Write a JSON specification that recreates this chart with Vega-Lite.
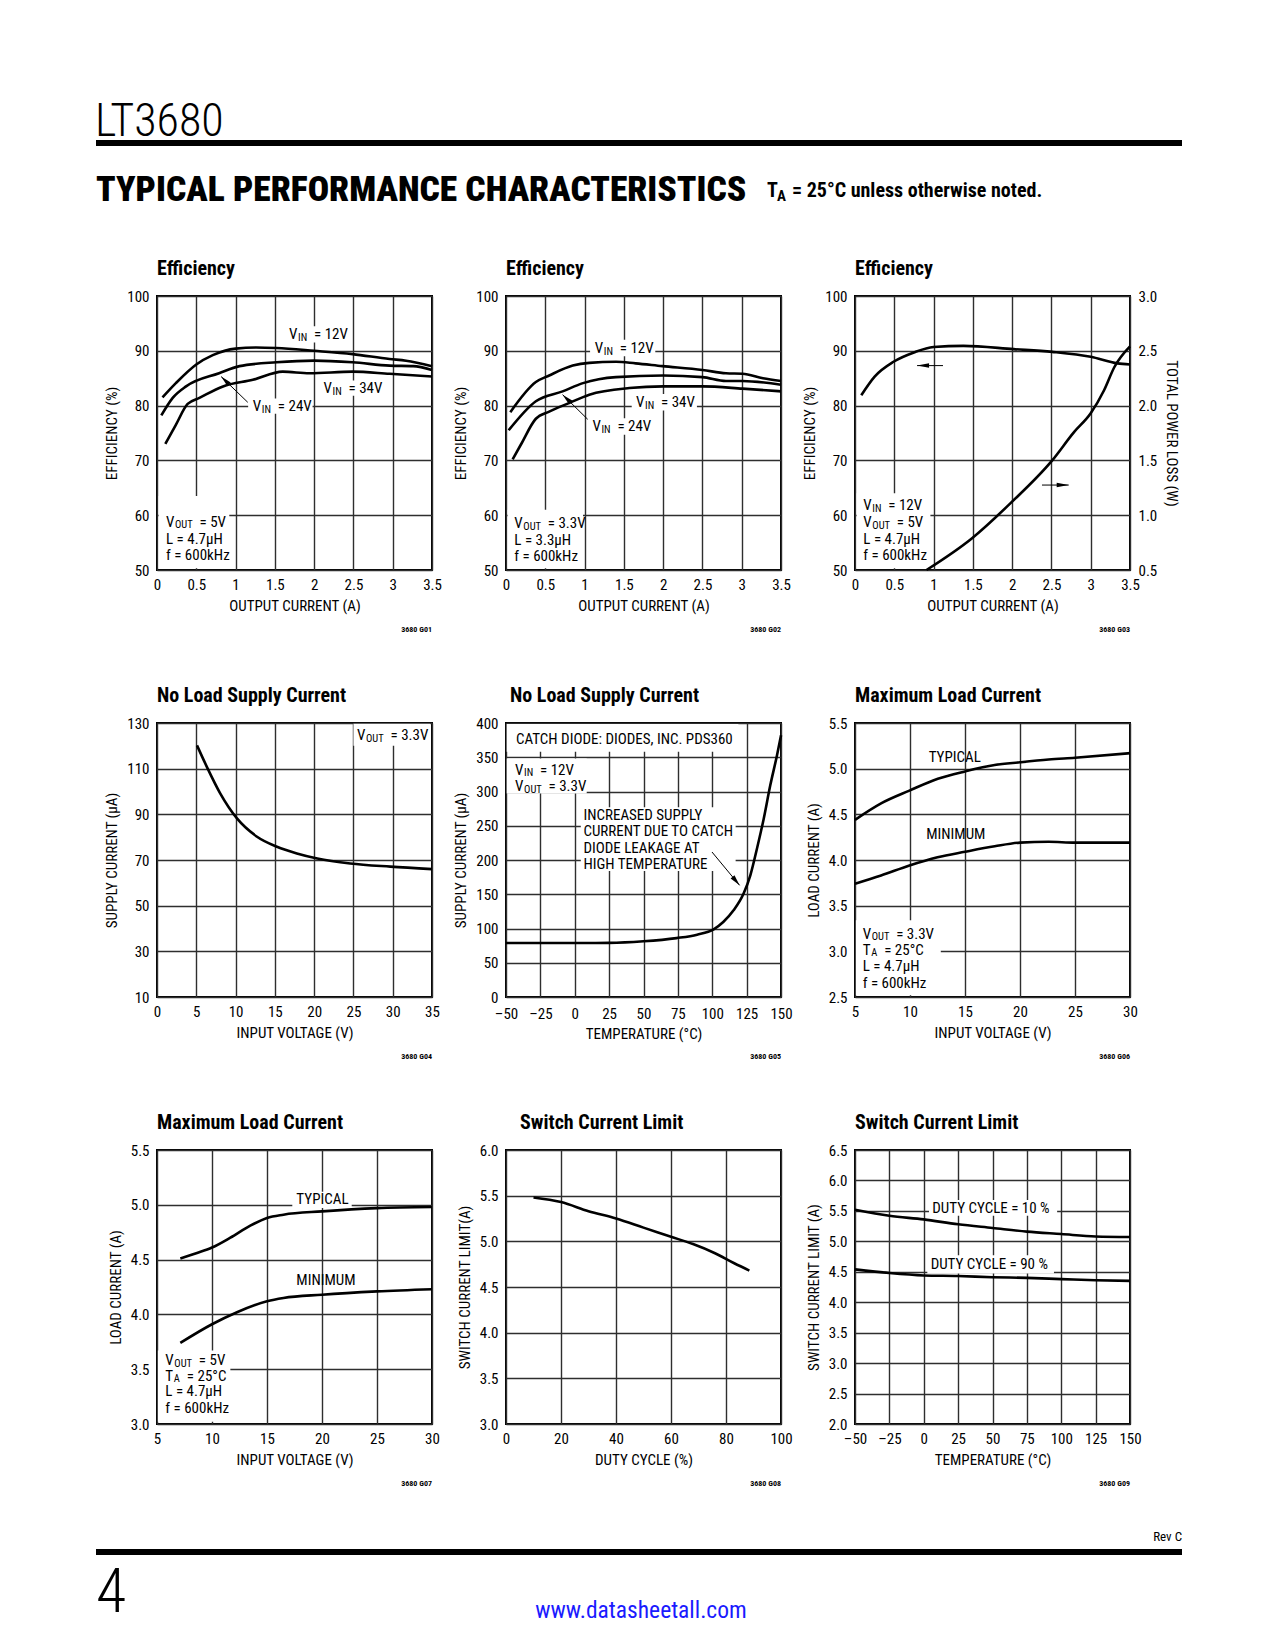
{
"$schema": "https://vega.github.io/schema/vega-lite/v6.json",
"background": "white",
"padding": {"left": 95, "top": 95, "right": 10, "bottom": 10},
"config": {
  "font": "Roboto Condensed, Roboto, sans-serif",
  "view": {"stroke": "black", "strokeWidth": 2},
  "axis": {"domain": false, "ticks": false, "grid": true, "gridColor": "#2e2e2e", "gridWidth": 1.4, "gridOpacity": 1, "labelFontSize": 15, "labelColor": "black", "labelFlush": false, "labelOverlap": false, "titleFontSize": 15, "titleFontWeight": "normal", "titleColor": "black", "titlePadding": 7},
  "axisX": {"labelPadding": 7, "titlePadding": 6.5},
  "axisY": {"labelPadding": 8},
  "title": {"fontSize": 20, "fontWeight": "bold", "anchor": "start", "frame": "group", "offset": 10, "baseline": "alphabetic", "color": "black"},
  "text": {"fontSize": 15, "color": "black", "align": "left", "baseline": "middle"},
  "line": {"color": "black", "strokeWidth": 2.6, "interpolate": "monotone"},
  "rule": {"color": "black"},
  "rect": {"color": "white"}
},
"datasets": {
  "curves": [
    {"c":1,"s":"a","x":0.07,"y":81.5},{"c":1,"s":"a","x":0.24,"y":84.1},{"c":1,"s":"a","x":0.5,"y":87.5},{"c":1,"s":"a","x":0.71,"y":89.2},{"c":1,"s":"a","x":1.0,"y":90.4},{"c":1,"s":"a","x":1.26,"y":90.6},{"c":1,"s":"a","x":1.52,"y":90.5},{"c":1,"s":"a","x":2.0,"y":90.0},{"c":1,"s":"a","x":2.49,"y":89.4},{"c":1,"s":"a","x":2.96,"y":88.5},{"c":1,"s":"a","x":3.17,"y":88.2},{"c":1,"s":"a","x":3.5,"y":87.2},
    {"c":1,"s":"b","x":0.055,"y":78.2},{"c":1,"s":"b","x":0.2,"y":81.4},{"c":1,"s":"b","x":0.37,"y":83.5},{"c":1,"s":"b","x":0.79,"y":85.9},{"c":1,"s":"b","x":1.05,"y":87.2},{"c":1,"s":"b","x":1.52,"y":87.9},{"c":1,"s":"b","x":2.0,"y":88.2},{"c":1,"s":"b","x":2.49,"y":87.9},{"c":1,"s":"b","x":2.96,"y":87.3},{"c":1,"s":"b","x":3.26,"y":87.2},{"c":1,"s":"b","x":3.5,"y":86.5},
    {"c":1,"s":"c","x":0.106,"y":73.0},{"c":1,"s":"c","x":0.24,"y":76.5},{"c":1,"s":"c","x":0.39,"y":80.3},{"c":1,"s":"c","x":0.54,"y":81.4},{"c":1,"s":"c","x":0.84,"y":83.5},{"c":1,"s":"c","x":1.22,"y":84.7},{"c":1,"s":"c","x":1.6,"y":86.2},{"c":1,"s":"c","x":1.94,"y":85.9},{"c":1,"s":"c","x":2.49,"y":86.2},{"c":1,"s":"c","x":2.96,"y":85.8},{"c":1,"s":"c","x":3.5,"y":85.3},
    {"c":2,"s":"a","x":0.055,"y":78.8},{"c":2,"s":"a","x":0.38,"y":84.3},{"c":2,"s":"a","x":0.55,"y":85.5},{"c":2,"s":"a","x":0.85,"y":87.3},{"c":2,"s":"a","x":1.06,"y":87.8},{"c":2,"s":"a","x":1.4,"y":88.0},{"c":2,"s":"a","x":1.65,"y":87.7},{"c":2,"s":"a","x":1.99,"y":87.2},{"c":2,"s":"a","x":2.5,"y":86.5},{"c":2,"s":"a","x":2.8,"y":85.9},{"c":2,"s":"a","x":3.01,"y":85.8},{"c":2,"s":"a","x":3.27,"y":85.0},{"c":2,"s":"a","x":3.5,"y":84.5},
    {"c":2,"s":"b","x":0.034,"y":75.5},{"c":2,"s":"b","x":0.38,"y":80.8},{"c":2,"s":"b","x":0.72,"y":82.6},{"c":2,"s":"b","x":0.98,"y":84.1},{"c":2,"s":"b","x":1.4,"y":85.2},{"c":2,"s":"b","x":2.0,"y":85.5},{"c":2,"s":"b","x":2.5,"y":85.2},{"c":2,"s":"b","x":2.8,"y":84.5},{"c":2,"s":"b","x":3.01,"y":84.5},{"c":2,"s":"b","x":3.5,"y":83.8},
    {"c":2,"s":"c","x":0.085,"y":70.2},{"c":2,"s":"c","x":0.19,"y":72.9},{"c":2,"s":"c","x":0.38,"y":77.6},{"c":2,"s":"c","x":0.55,"y":78.9},{"c":2,"s":"c","x":0.81,"y":80.5},{"c":2,"s":"c","x":1.06,"y":82.0},{"c":2,"s":"c","x":1.57,"y":83.2},{"c":2,"s":"c","x":2.0,"y":83.5},{"c":2,"s":"c","x":2.5,"y":83.5},{"c":2,"s":"c","x":3.01,"y":83.1},{"c":2,"s":"c","x":3.5,"y":82.6},
    {"c":3,"s":"eff","x":0.08,"y":81.9},{"c":3,"s":"eff","x":0.25,"y":85.3},{"c":3,"s":"eff","x":0.49,"y":88.0},{"c":3,"s":"eff","x":0.75,"y":89.7},{"c":3,"s":"eff","x":1.0,"y":90.7},{"c":3,"s":"eff","x":1.38,"y":90.9},{"c":3,"s":"eff","x":2.02,"y":90.3},{"c":3,"s":"eff","x":2.51,"y":89.8},{"c":3,"s":"eff","x":3.0,"y":88.9},{"c":3,"s":"eff","x":3.34,"y":87.7},{"c":3,"s":"eff","x":3.5,"y":87.5},
    {"c":3,"s":"loss","x":0.91,"y":0.5},{"c":3,"s":"loss","x":1.49,"y":0.79},{"c":3,"s":"loss","x":1.98,"y":1.11},{"c":3,"s":"loss","x":2.51,"y":1.5},{"c":3,"s":"loss","x":2.79,"y":1.76},{"c":3,"s":"loss","x":3.0,"y":1.93},{"c":3,"s":"loss","x":3.17,"y":2.14},{"c":3,"s":"loss","x":3.3,"y":2.35},{"c":3,"s":"loss","x":3.5,"y":2.54},
    {"c":4,"s":"a","x":5.09,"y":120.2},{"c":4,"s":"a","x":6.36,"y":110.7},{"c":4,"s":"a","x":8.06,"y":99.1},{"c":4,"s":"a","x":10.18,"y":88.2},{"c":4,"s":"a","x":12.73,"y":80.2},{"c":4,"s":"a","x":15.27,"y":75.8},{"c":4,"s":"a","x":17.8,"y":72.9},{"c":4,"s":"a","x":20.4,"y":70.7},{"c":4,"s":"a","x":24.6,"y":68.5},{"c":4,"s":"a","x":29.7,"y":67.1},{"c":4,"s":"a","x":35,"y":66.0},
    {"c":5,"s":"a","x":-50,"y":78.8},{"c":5,"s":"a","x":0,"y":78.8},{"c":5,"s":"a","x":25,"y":79.0},{"c":5,"s":"a","x":50,"y":81.3},{"c":5,"s":"a","x":74,"y":86},{"c":5,"s":"a","x":89,"y":91},{"c":5,"s":"a","x":101,"y":98.8},{"c":5,"s":"a","x":108,"y":109.5},{"c":5,"s":"a","x":115.5,"y":126.5},{"c":5,"s":"a","x":122.8,"y":151},{"c":5,"s":"a","x":127.7,"y":177.6},{"c":5,"s":"a","x":132.5,"y":216.5},{"c":5,"s":"a","x":137.4,"y":260},{"c":5,"s":"a","x":142.2,"y":309},{"c":5,"s":"a","x":147.1,"y":353},{"c":5,"s":"a","x":150,"y":382},
    {"c":6,"s":"typ","x":5,"y":4.44},{"c":6,"s":"typ","x":7.37,"y":4.62},{"c":6,"s":"typ","x":9.95,"y":4.76},{"c":6,"s":"typ","x":12.53,"y":4.89},{"c":6,"s":"typ","x":15,"y":4.97},{"c":6,"s":"typ","x":17.7,"y":5.04},{"c":6,"s":"typ","x":20,"y":5.07},{"c":6,"s":"typ","x":22.6,"y":5.10},{"c":6,"s":"typ","x":25,"y":5.12},{"c":6,"s":"typ","x":30,"y":5.17},
    {"c":6,"s":"min","x":5,"y":3.74},{"c":6,"s":"min","x":7.37,"y":3.83},{"c":6,"s":"min","x":9.95,"y":3.94},{"c":6,"s":"min","x":12.5,"y":4.03},{"c":6,"s":"min","x":15,"y":4.09},{"c":6,"s":"min","x":17.7,"y":4.15},{"c":6,"s":"min","x":20,"y":4.19},{"c":6,"s":"min","x":22.6,"y":4.2},{"c":6,"s":"min","x":25,"y":4.19},{"c":6,"s":"min","x":30,"y":4.19},
    {"c":7,"s":"typ","x":7.12,"y":4.51},{"c":7,"s":"typ","x":8.64,"y":4.56},{"c":7,"s":"typ","x":10,"y":4.61},{"c":7,"s":"typ","x":11.67,"y":4.70},{"c":7,"s":"typ","x":13.48,"y":4.81},{"c":7,"s":"typ","x":15,"y":4.88},{"c":7,"s":"typ","x":16.5,"y":4.91},{"c":7,"s":"typ","x":20,"y":4.94},{"c":7,"s":"typ","x":25,"y":4.97},{"c":7,"s":"typ","x":30,"y":4.98},
    {"c":7,"s":"min","x":7.12,"y":3.74},{"c":7,"s":"min","x":10,"y":3.91},{"c":7,"s":"min","x":12.27,"y":4.02},{"c":7,"s":"min","x":15,"y":4.12},{"c":7,"s":"min","x":16.5,"y":4.15},{"c":7,"s":"min","x":20,"y":4.18},{"c":7,"s":"min","x":25,"y":4.21},{"c":7,"s":"min","x":30,"y":4.23},
    {"c":8,"s":"a","x":10,"y":5.48},{"c":8,"s":"a","x":20,"y":5.43},{"c":8,"s":"a","x":30,"y":5.33},{"c":8,"s":"a","x":40,"y":5.25},{"c":8,"s":"a","x":50,"y":5.15},{"c":8,"s":"a","x":60,"y":5.05},{"c":8,"s":"a","x":68,"y":4.97},{"c":8,"s":"a","x":76,"y":4.87},{"c":8,"s":"a","x":83,"y":4.76},{"c":8,"s":"a","x":88.5,"y":4.68},
    {"c":9,"s":"d10","x":-50,"y":5.52},{"c":9,"s":"d10","x":-25,"y":5.42},{"c":9,"s":"d10","x":0,"y":5.36},{"c":9,"s":"d10","x":25,"y":5.28},{"c":9,"s":"d10","x":50,"y":5.22},{"c":9,"s":"d10","x":75,"y":5.16},{"c":9,"s":"d10","x":100,"y":5.12},{"c":9,"s":"d10","x":125,"y":5.08},{"c":9,"s":"d10","x":150,"y":5.07},
    {"c":9,"s":"d90","x":-50,"y":4.54},{"c":9,"s":"d90","x":-25,"y":4.48},{"c":9,"s":"d90","x":0,"y":4.44},{"c":9,"s":"d90","x":25,"y":4.43},{"c":9,"s":"d90","x":50,"y":4.41},{"c":9,"s":"d90","x":75,"y":4.40},{"c":9,"s":"d90","x":100,"y":4.38},{"c":9,"s":"d90","x":125,"y":4.36},{"c":9,"s":"d90","x":150,"y":4.35}
  ],
  "boxes": [
    {"c":1,"x":1.62,"x2":2.44,"y":91.5,"y2":94.5},{"c":1,"x":1.16,"x2":1.98,"y":78.5,"y2":81.3},{"c":1,"x":2.06,"x2":2.88,"y":81.8,"y2":84.6},{"c":1,"x":0.02,"x2":0.92,"y":50.3,"y2":63.5},
    {"c":2,"x":1.07,"x2":1.9,"y":89.0,"y2":92.0},{"c":2,"x":1.6,"x2":2.43,"y":79.1,"y2":82.1},{"c":2,"x":1.04,"x2":1.87,"y":74.7,"y2":77.7},{"c":2,"x":0.02,"x2":0.98,"y":50.3,"y2":61},
    {"c":3,"x":0.02,"x2":0.96,"y":50.3,"y2":64},
    {"c":4,"x":25.0,"x2":34.8,"y":120,"y2":129.7},
    {"c":5,"x":-49.5,"x2":119,"y":358,"y2":398.5},{"c":5,"x":-49.5,"x2":8.7,"y":297,"y2":348},{"c":5,"x":4.4,"x2":117,"y":184,"y2":277},
    {"c":6,"x":5.08,"x2":12.8,"y":2.52,"y2":3.34},
    {"c":7,"x":17.3,"x2":22.7,"y":4.97,"y2":5.12},{"c":7,"x":5.08,"x2":11.67,"y":3.02,"y2":3.67},
    {"c":9,"x":3.8,"x2":97,"y":5.42,"y2":5.68},{"c":9,"x":2.6,"x2":94.7,"y":4.47,"y2":4.77}
  ],
  "plain": [
    {"c":1,"x":0.115,"y":55.6,"t":"L = 4.7µH"},{"c":1,"x":0.115,"y":52.8,"t":"f = 600kHz"},
    {"c":2,"x":0.106,"y":55.5,"t":"L = 3.3µH"},{"c":2,"x":0.106,"y":52.6,"t":"f = 600kHz"},
    {"c":3,"x":0.106,"y":55.7,"t":"L = 4.7µH"},{"c":3,"x":0.106,"y":52.8,"t":"f = 600kHz"},
    {"c":5,"x":-42.7,"y":377,"t":"CATCH DIODE: DIODES, INC. PDS360"},{"c":5,"x":6.3,"y":266,"t":"INCREASED SUPPLY"},{"c":5,"x":6.3,"y":242,"t":"CURRENT DUE TO CATCH"},{"c":5,"x":6.3,"y":217.5,"t":"DIODE LEAKAGE AT"},{"c":5,"x":6.3,"y":194.6,"t":"HIGH TEMPERATURE"},
    {"c":6,"x":5.7,"y":2.84,"t":"L = 4.7µH"},{"c":6,"x":5.7,"y":2.65,"t":"f = 600kHz"},{"c":6,"x":11.7,"y":5.13,"t":"TYPICAL"},{"c":6,"x":11.47,"y":4.29,"t":"MINIMUM"},
    {"c":7,"x":5.76,"y":3.30,"t":"L = 4.7µH"},{"c":7,"x":5.76,"y":3.15,"t":"f = 600kHz"},{"c":7,"x":17.67,"y":5.05,"t":"TYPICAL"},{"c":7,"x":17.67,"y":4.31,"t":"MINIMUM"},
    {"c":9,"x":6.2,"y":5.55,"t":"DUTY CYCLE = 10 %"},{"c":9,"x":5.0,"y":4.63,"t":"DUTY CYCLE = 90 %"}
  ],
  "vin": [
    {"c":1,"x":1.68,"y":93.0,"t":"= 12V"},{"c":1,"x":1.22,"y":79.9,"t":"= 24V"},{"c":1,"x":2.12,"y":83.2,"t":"= 34V"},
    {"c":2,"x":1.13,"y":90.5,"t":"= 12V"},{"c":2,"x":1.655,"y":80.6,"t":"= 34V"},{"c":2,"x":1.10,"y":76.2,"t":"= 24V"},
    {"c":3,"x":0.106,"y":61.8,"t":"= 12V"},
    {"c":5,"x":-43.4,"y":332,"t":"= 12V"}
  ],
  "vout": [
    {"c":1,"x":0.115,"y":58.8,"t":"= 5V"},{"c":2,"x":0.106,"y":58.5,"t":"= 3.3V"},{"c":3,"x":0.106,"y":58.7,"t":"= 5V"},{"c":4,"x":25.46,"y":124.6,"t":"= 3.3V"},{"c":5,"x":-43.4,"y":308,"t":"= 3.3V"},{"c":6,"x":5.7,"y":3.19,"t":"= 3.3V"},{"c":7,"x":5.76,"y":3.58,"t":"= 5V"}
  ],
  "ta": [
    {"c":6,"x":5.7,"y":3.02,"t":"= 25°C"},{"c":7,"x":5.76,"y":3.44,"t":"= 25°C"}
  ],
  "arrows": [
    {"c":1,"x":0.816,"y":85.3,"x2":1.155,"y2":80.6},
    {"c":2,"x":0.72,"y":82.0,"x2":1.04,"y2":77.5},
    {"c":3,"x":0.79,"y":87.3,"x2":1.12,"y2":87.3},{"c":3,"x":2.72,"y":65.5,"x2":2.38,"y2":65.5},
    {"c":5,"x":119.9,"y":163,"x2":99.8,"y2":211.7}
  ],
  "notes": [
    {"c":1,"x":3.5,"y":50,"t":"3680 G01"},{"c":2,"x":3.5,"y":50,"t":"3680 G02"},{"c":3,"x":3.5,"y":50,"t":"3680 G03"},{"c":4,"x":35,"y":10,"t":"3680 G04"},{"c":5,"x":150,"y":0,"t":"3680 G05"},{"c":6,"x":30,"y":2.5,"t":"3680 G06"},{"c":7,"x":30,"y":3,"t":"3680 G07"},{"c":8,"x":100,"y":3,"t":"3680 G08"},{"c":9,"x":150,"y":2,"t":"3680 G09"}
  ]
},
"columns": 3,
"spacing": {"row": 153, "column": 74},
"bounds": "flush",
"concat": [
  {
    "width": 275, "height": 48, "view": {"stroke": null},
    "encoding": {
      "x": {"field": "x", "type": "quantitative", "scale": {"domain": [156, 431], "nice": false, "zero": false}, "axis": null},
      "y": {"field": "y", "type": "quantitative", "scale": {"domain": [95, 143], "nice": false, "zero": false, "reverse": true}, "axis": null}
    },
    "layer": [
      {"data": {"values": [{"x": 95, "x2": 1181, "y": 140, "y2": 146}]}, "mark": {"type": "rect", "color": "black"}, "encoding": {"x2": {"field": "x2"}, "y2": {"field": "y2"}}},
      {"data": {"values": [{"x": 94, "y": 136, "t": "LT3680"}]}, "mark": {"type": "text", "baseline": "alphabetic", "fontSize": 46, "fontWeight": 300}, "encoding": {"text": {"field": "t"}}},
      {"data": {"values": [{"x": 95, "y": 201, "t": "TYPICAL PERFORMANCE CHARACTERISTICS"}]}, "mark": {"type": "text", "baseline": "alphabetic", "fontSize": 35.5, "fontWeight": 900}, "encoding": {"text": {"field": "t"}}},
      {"data": {"values": [{"x": 766, "y": 197, "t": "= 25°C unless otherwise noted."}]}, "layer": [
        {"mark": {"type": "text", "baseline": "alphabetic", "fontSize": 20, "fontWeight": "bold", "text": "T"}},
        {"mark": {"type": "text", "baseline": "alphabetic", "fontSize": 15, "fontWeight": "bold", "text": "A", "dx": 10, "dy": 4}},
        {"mark": {"type": "text", "baseline": "alphabetic", "fontSize": 20, "fontWeight": "bold", "dx": 25}, "encoding": {"text": {"field": "t"}}}
      ]}
    ]
  },
  {"width": 275, "height": 48, "view": {"stroke": null}, "data": {"values": []}, "mark": "point", "encoding": {}},
  {"width": 275, "height": 48, "view": {"stroke": null}, "data": {"values": []}, "mark": "point", "encoding": {}},
  {
    "width": 275, "height": 274, "title": {"text": "Efficiency"},
    "encoding": {
      "x": {"field": "x", "type": "quantitative", "scale": {"domain": [0, 3.5], "nice": false, "zero": false}, "axis": {"title": "OUTPUT CURRENT (A)", "values": [0, 0.5, 1, 1.5, 2, 2.5, 3, 3.5], "format": "~g"}},
      "y": {"field": "y", "type": "quantitative", "scale": {"domain": [50, 100], "nice": false, "zero": false}, "axis": {"title": "EFFICIENCY (%)", "values": [50, 60, 70, 80, 90, 100]}}
    },
    "layer": [
      {"data": {"name": "boxes"}, "transform": [{"filter": "datum.c==1"}], "mark": {"type": "rect"}, "encoding": {"x2": {"field": "x2"}, "y2": {"field": "y2"}}},
      {"data": {"name": "curves"}, "transform": [{"filter": "datum.c==1"}], "mark": {"type": "line"}, "encoding": {"detail": {"field": "s"}}},
      {"data": {"name": "arrows"}, "transform": [{"filter": "datum.c==1"}], "layer": [
        {"mark": {"type": "rule", "strokeWidth": 1}, "encoding": {"x2": {"field": "x2"}, "y2": {"field": "y2"}}},
        {"mark": {"type": "point", "shape": "M0,0L0.5,2.2L-0.5,2.2Z", "filled": true, "size": 100, "angle": 314, "color": "black", "opacity": 1}}
      ]},
      {"data": {"name": "plain"}, "transform": [{"filter": "datum.c==1"}], "mark": {"type": "text"}, "encoding": {"text": {"field": "t"}}},
      {"data": {"name": "vin"}, "transform": [{"filter": "datum.c==1"}], "layer": [
        {"mark": {"type": "text", "text": "V"}},
        {"mark": {"type": "text", "text": "IN", "fontSize": 10.5, "dx": 9, "dy": 3.5}},
        {"mark": {"type": "text", "dx": 25}, "encoding": {"text": {"field": "t"}}}
      ]},
      {"data": {"name": "vout"}, "transform": [{"filter": "datum.c==1"}], "layer": [
        {"mark": {"type": "text", "text": "V"}},
        {"mark": {"type": "text", "text": "OUT", "fontSize": 10.5, "dx": 9, "dy": 3.5}},
        {"mark": {"type": "text", "dx": 33.5}, "encoding": {"text": {"field": "t"}}}
      ]},
      {"data": {"name": "notes"}, "transform": [{"filter": "datum.c==1"}], "mark": {"type": "text", "align": "right", "fontSize": 8, "fontWeight": "bold", "dy": 60}, "encoding": {"text": {"field": "t"}}}
    ]
  },
  {
    "width": 275, "height": 274, "title": {"text": "Efficiency"},
    "encoding": {
      "x": {"field": "x", "type": "quantitative", "scale": {"domain": [0, 3.5], "nice": false, "zero": false}, "axis": {"title": "OUTPUT CURRENT (A)", "values": [0, 0.5, 1, 1.5, 2, 2.5, 3, 3.5], "format": "~g"}},
      "y": {"field": "y", "type": "quantitative", "scale": {"domain": [50, 100], "nice": false, "zero": false}, "axis": {"title": "EFFICIENCY (%)", "values": [50, 60, 70, 80, 90, 100]}}
    },
    "layer": [
      {"data": {"name": "boxes"}, "transform": [{"filter": "datum.c==2"}], "mark": {"type": "rect"}, "encoding": {"x2": {"field": "x2"}, "y2": {"field": "y2"}}},
      {"data": {"name": "curves"}, "transform": [{"filter": "datum.c==2"}], "mark": {"type": "line"}, "encoding": {"detail": {"field": "s"}}},
      {"data": {"name": "arrows"}, "transform": [{"filter": "datum.c==2"}], "layer": [
        {"mark": {"type": "rule", "strokeWidth": 1}, "encoding": {"x2": {"field": "x2"}, "y2": {"field": "y2"}}},
        {"mark": {"type": "point", "shape": "M0,0L0.5,2.2L-0.5,2.2Z", "filled": true, "size": 100, "angle": 314, "color": "black", "opacity": 1}}
      ]},
      {"data": {"name": "plain"}, "transform": [{"filter": "datum.c==2"}], "mark": {"type": "text"}, "encoding": {"text": {"field": "t"}}},
      {"data": {"name": "vin"}, "transform": [{"filter": "datum.c==2"}], "layer": [
        {"mark": {"type": "text", "text": "V"}},
        {"mark": {"type": "text", "text": "IN", "fontSize": 10.5, "dx": 9, "dy": 3.5}},
        {"mark": {"type": "text", "dx": 25}, "encoding": {"text": {"field": "t"}}}
      ]},
      {"data": {"name": "vout"}, "transform": [{"filter": "datum.c==2"}], "layer": [
        {"mark": {"type": "text", "text": "V"}},
        {"mark": {"type": "text", "text": "OUT", "fontSize": 10.5, "dx": 9, "dy": 3.5}},
        {"mark": {"type": "text", "dx": 33.5}, "encoding": {"text": {"field": "t"}}}
      ]},
      {"data": {"name": "notes"}, "transform": [{"filter": "datum.c==2"}], "mark": {"type": "text", "align": "right", "fontSize": 8, "fontWeight": "bold", "dy": 60}, "encoding": {"text": {"field": "t"}}}
    ]
  },
  {
    "width": 275, "height": 274, "title": {"text": "Efficiency"},
    "encoding": {
      "x": {"field": "x", "type": "quantitative", "scale": {"domain": [0, 3.5], "nice": false, "zero": false}, "axis": {"title": "OUTPUT CURRENT (A)", "values": [0, 0.5, 1, 1.5, 2, 2.5, 3, 3.5], "format": "~g"}}
    },
    "layer": [
      {
        "encoding": {"y": {"field": "y", "type": "quantitative", "scale": {"domain": [50, 100], "nice": false, "zero": false}, "axis": {"title": "EFFICIENCY (%)", "values": [50, 60, 70, 80, 90, 100]}}},
        "layer": [
          {"data": {"name": "boxes"}, "transform": [{"filter": "datum.c==3"}], "mark": {"type": "rect"}, "encoding": {"x2": {"field": "x2"}, "y2": {"field": "y2"}}},
          {"data": {"name": "curves"}, "transform": [{"filter": "datum.c==3 && datum.s=='eff'"}], "mark": {"type": "line"}, "encoding": {"detail": {"field": "s"}}},
          {"data": {"name": "arrows"}, "transform": [{"filter": "datum.c==3"}], "mark": {"type": "rule", "strokeWidth": 1}, "encoding": {"x2": {"field": "x2"}, "y2": {"field": "y2"}}},
          {"data": {"name": "arrows"}, "transform": [{"filter": "datum.c==3 && datum.x2 > datum.x"}], "mark": {"type": "point", "shape": "M0,0L0.45,2.4L-0.45,2.4Z", "filled": true, "size": 100, "angle": 270, "color": "black", "opacity": 1}},
          {"data": {"name": "arrows"}, "transform": [{"filter": "datum.c==3 && datum.x2 < datum.x"}], "mark": {"type": "point", "shape": "M0,0L0.45,2.4L-0.45,2.4Z", "filled": true, "size": 100, "angle": 90, "color": "black", "opacity": 1}},
          {"data": {"name": "plain"}, "transform": [{"filter": "datum.c==3"}], "mark": {"type": "text"}, "encoding": {"text": {"field": "t"}}},
          {"data": {"name": "vin"}, "transform": [{"filter": "datum.c==3"}], "layer": [
            {"mark": {"type": "text", "text": "V"}},
            {"mark": {"type": "text", "text": "IN", "fontSize": 10.5, "dx": 9, "dy": 3.5}},
            {"mark": {"type": "text", "dx": 25}, "encoding": {"text": {"field": "t"}}}
          ]},
          {"data": {"name": "vout"}, "transform": [{"filter": "datum.c==3"}], "layer": [
            {"mark": {"type": "text", "text": "V"}},
            {"mark": {"type": "text", "text": "OUT", "fontSize": 10.5, "dx": 9, "dy": 3.5}},
            {"mark": {"type": "text", "dx": 33.5}, "encoding": {"text": {"field": "t"}}}
          ]},
          {"data": {"name": "notes"}, "transform": [{"filter": "datum.c==3"}], "mark": {"type": "text", "align": "right", "fontSize": 8, "fontWeight": "bold", "dy": 60}, "encoding": {"text": {"field": "t"}}}
        ]
      },
      {
        "data": {"name": "curves"}, "transform": [{"filter": "datum.c==3 && datum.s=='loss'"}],
        "mark": {"type": "line"},
        "encoding": {"y": {"field": "y", "type": "quantitative", "scale": {"domain": [0.5, 3], "nice": false, "zero": false}, "axis": {"orient": "right", "title": "TOTAL POWER LOSS (W)", "values": [0.5, 1, 1.5, 2, 2.5, 3], "format": ".1f", "grid": false}}}
      }
    ],
    "resolve": {"scale": {"y": "independent"}}
  },
  {
    "width": 275, "height": 274, "title": {"text": "No Load Supply Current"},
    "encoding": {
      "x": {"field": "x", "type": "quantitative", "scale": {"domain": [0, 35], "nice": false, "zero": false}, "axis": {"title": "INPUT VOLTAGE (V)", "values": [0, 5, 10, 15, 20, 25, 30, 35]}},
      "y": {"field": "y", "type": "quantitative", "scale": {"domain": [10, 130], "nice": false, "zero": false}, "axis": {"title": "SUPPLY CURRENT (µA)", "values": [10, 30, 50, 70, 90, 110, 130]}}
    },
    "layer": [
      {"data": {"name": "boxes"}, "transform": [{"filter": "datum.c==4"}], "mark": {"type": "rect"}, "encoding": {"x2": {"field": "x2"}, "y2": {"field": "y2"}}},
      {"data": {"name": "curves"}, "transform": [{"filter": "datum.c==4"}], "mark": {"type": "line"}, "encoding": {"detail": {"field": "s"}}},
      {"data": {"name": "vout"}, "transform": [{"filter": "datum.c==4"}], "layer": [
        {"mark": {"type": "text", "text": "V"}},
        {"mark": {"type": "text", "text": "OUT", "fontSize": 10.5, "dx": 9, "dy": 3.5}},
        {"mark": {"type": "text", "dx": 33.5}, "encoding": {"text": {"field": "t"}}}
      ]},
      {"data": {"name": "notes"}, "transform": [{"filter": "datum.c==4"}], "mark": {"type": "text", "align": "right", "fontSize": 8, "fontWeight": "bold", "dy": 60}, "encoding": {"text": {"field": "t"}}}
    ]
  },
  {
    "width": 275, "height": 274, "title": {"text": "No Load Supply Current", "dx": 4},
    "encoding": {
      "x": {"field": "x", "type": "quantitative", "scale": {"domain": [-50, 150], "nice": false, "zero": false}, "axis": {"title": "TEMPERATURE (°C)", "values": [-50, -25, 0, 25, 50, 75, 100, 125, 150], "labelPadding": 9, "titlePadding": 5, "labelExpr": "replace(replace(datum.label, '−', '–'), '-', '–')"}},
      "y": {"field": "y", "type": "quantitative", "scale": {"domain": [0, 400], "nice": false, "zero": false}, "axis": {"title": "SUPPLY CURRENT (µA)", "values": [0, 50, 100, 150, 200, 250, 300, 350, 400]}}
    },
    "layer": [
      {"data": {"name": "boxes"}, "transform": [{"filter": "datum.c==5"}], "mark": {"type": "rect"}, "encoding": {"x2": {"field": "x2"}, "y2": {"field": "y2"}}},
      {"data": {"name": "curves"}, "transform": [{"filter": "datum.c==5"}], "mark": {"type": "line"}, "encoding": {"detail": {"field": "s"}}},
      {"data": {"name": "arrows"}, "transform": [{"filter": "datum.c==5"}], "layer": [
        {"mark": {"type": "rule", "strokeWidth": 1}, "encoding": {"x2": {"field": "x2"}, "y2": {"field": "y2"}}},
        {"mark": {"type": "point", "shape": "M0,0L0.5,2.2L-0.5,2.2Z", "filled": true, "size": 100, "angle": 140, "color": "black", "opacity": 1}}
      ]},
      {"data": {"name": "plain"}, "transform": [{"filter": "datum.c==5"}], "mark": {"type": "text"}, "encoding": {"text": {"field": "t"}}},
      {"data": {"name": "vin"}, "transform": [{"filter": "datum.c==5"}], "layer": [
        {"mark": {"type": "text", "text": "V"}},
        {"mark": {"type": "text", "text": "IN", "fontSize": 10.5, "dx": 9, "dy": 3.5}},
        {"mark": {"type": "text", "dx": 25}, "encoding": {"text": {"field": "t"}}}
      ]},
      {"data": {"name": "vout"}, "transform": [{"filter": "datum.c==5"}], "layer": [
        {"mark": {"type": "text", "text": "V"}},
        {"mark": {"type": "text", "text": "OUT", "fontSize": 10.5, "dx": 9, "dy": 3.5}},
        {"mark": {"type": "text", "dx": 33.5}, "encoding": {"text": {"field": "t"}}}
      ]},
      {"data": {"name": "notes"}, "transform": [{"filter": "datum.c==5"}], "mark": {"type": "text", "align": "right", "fontSize": 8, "fontWeight": "bold", "dy": 60}, "encoding": {"text": {"field": "t"}}}
    ]
  },
  {
    "width": 275, "height": 274, "title": {"text": "Maximum Load Current"},
    "encoding": {
      "x": {"field": "x", "type": "quantitative", "scale": {"domain": [5, 30], "nice": false, "zero": false}, "axis": {"title": "INPUT VOLTAGE (V)", "values": [5, 10, 15, 20, 25, 30]}},
      "y": {"field": "y", "type": "quantitative", "scale": {"domain": [2.5, 5.5], "nice": false, "zero": false}, "axis": {"title": "LOAD CURRENT (A)", "values": [2.5, 3, 3.5, 4, 4.5, 5, 5.5], "format": ".1f"}}
    },
    "layer": [
      {"data": {"name": "boxes"}, "transform": [{"filter": "datum.c==6"}], "mark": {"type": "rect"}, "encoding": {"x2": {"field": "x2"}, "y2": {"field": "y2"}}},
      {"data": {"name": "curves"}, "transform": [{"filter": "datum.c==6"}], "mark": {"type": "line"}, "encoding": {"detail": {"field": "s"}}},
      {"data": {"name": "plain"}, "transform": [{"filter": "datum.c==6"}], "mark": {"type": "text"}, "encoding": {"text": {"field": "t"}}},
      {"data": {"name": "vout"}, "transform": [{"filter": "datum.c==6"}], "layer": [
        {"mark": {"type": "text", "text": "V"}},
        {"mark": {"type": "text", "text": "OUT", "fontSize": 10.5, "dx": 9, "dy": 3.5}},
        {"mark": {"type": "text", "dx": 33.5}, "encoding": {"text": {"field": "t"}}}
      ]},
      {"data": {"name": "ta"}, "transform": [{"filter": "datum.c==6"}], "layer": [
        {"mark": {"type": "text", "text": "T"}},
        {"mark": {"type": "text", "text": "A", "fontSize": 10.5, "dx": 8.5, "dy": 3.5}},
        {"mark": {"type": "text", "dx": 21.5}, "encoding": {"text": {"field": "t"}}}
      ]},
      {"data": {"name": "notes"}, "transform": [{"filter": "datum.c==6"}], "mark": {"type": "text", "align": "right", "fontSize": 8, "fontWeight": "bold", "dy": 60}, "encoding": {"text": {"field": "t"}}}
    ]
  },
  {
    "width": 275, "height": 274, "title": {"text": "Maximum Load Current"},
    "encoding": {
      "x": {"field": "x", "type": "quantitative", "scale": {"domain": [5, 30], "nice": false, "zero": false}, "axis": {"title": "INPUT VOLTAGE (V)", "values": [5, 10, 15, 20, 25, 30]}},
      "y": {"field": "y", "type": "quantitative", "scale": {"domain": [3, 5.5], "nice": false, "zero": false}, "axis": {"title": "LOAD CURRENT (A)", "values": [3, 3.5, 4, 4.5, 5, 5.5], "format": ".1f"}}
    },
    "layer": [
      {"data": {"name": "boxes"}, "transform": [{"filter": "datum.c==7"}], "mark": {"type": "rect"}, "encoding": {"x2": {"field": "x2"}, "y2": {"field": "y2"}}},
      {"data": {"name": "curves"}, "transform": [{"filter": "datum.c==7"}], "mark": {"type": "line"}, "encoding": {"detail": {"field": "s"}}},
      {"data": {"name": "plain"}, "transform": [{"filter": "datum.c==7"}], "mark": {"type": "text"}, "encoding": {"text": {"field": "t"}}},
      {"data": {"name": "vout"}, "transform": [{"filter": "datum.c==7"}], "layer": [
        {"mark": {"type": "text", "text": "V"}},
        {"mark": {"type": "text", "text": "OUT", "fontSize": 10.5, "dx": 9, "dy": 3.5}},
        {"mark": {"type": "text", "dx": 33.5}, "encoding": {"text": {"field": "t"}}}
      ]},
      {"data": {"name": "ta"}, "transform": [{"filter": "datum.c==7"}], "layer": [
        {"mark": {"type": "text", "text": "T"}},
        {"mark": {"type": "text", "text": "A", "fontSize": 10.5, "dx": 8.5, "dy": 3.5}},
        {"mark": {"type": "text", "dx": 21.5}, "encoding": {"text": {"field": "t"}}}
      ]},
      {"data": {"name": "notes"}, "transform": [{"filter": "datum.c==7"}], "mark": {"type": "text", "align": "right", "fontSize": 8, "fontWeight": "bold", "dy": 60}, "encoding": {"text": {"field": "t"}}}
    ]
  },
  {
    "width": 275, "height": 274, "title": {"text": "Switch Current Limit", "dx": 14},
    "encoding": {
      "x": {"field": "x", "type": "quantitative", "scale": {"domain": [0, 100], "nice": false, "zero": false}, "axis": {"title": "DUTY CYCLE (%)", "values": [0, 20, 40, 60, 80, 100]}},
      "y": {"field": "y", "type": "quantitative", "scale": {"domain": [3, 6], "nice": false, "zero": false}, "axis": {"title": "SWITCH CURRENT  LIMIT(A)", "values": [3, 3.5, 4, 4.5, 5, 5.5, 6], "format": ".1f"}}
    },
    "layer": [
      {"data": {"name": "curves"}, "transform": [{"filter": "datum.c==8"}], "mark": {"type": "line"}, "encoding": {"detail": {"field": "s"}}},
      {"data": {"name": "notes"}, "transform": [{"filter": "datum.c==8"}], "mark": {"type": "text", "align": "right", "fontSize": 8, "fontWeight": "bold", "dy": 60}, "encoding": {"text": {"field": "t"}}}
    ]
  },
  {
    "width": 275, "height": 274, "title": {"text": "Switch Current Limit"},
    "encoding": {
      "x": {"field": "x", "type": "quantitative", "scale": {"domain": [-50, 150], "nice": false, "zero": false}, "axis": {"title": "TEMPERATURE (°C)", "values": [-50, -25, 0, 25, 50, 75, 100, 125, 150], "labelExpr": "replace(replace(datum.label, '−', '–'), '-', '–')"}},
      "y": {"field": "y", "type": "quantitative", "scale": {"domain": [2, 6.5], "nice": false, "zero": false}, "axis": {"title": "SWITCH CURRENT LIMIT (A)", "values": [2, 2.5, 3, 3.5, 4, 4.5, 5, 5.5, 6, 6.5], "format": ".1f"}}
    },
    "layer": [
      {"data": {"name": "boxes"}, "transform": [{"filter": "datum.c==9"}], "mark": {"type": "rect"}, "encoding": {"x2": {"field": "x2"}, "y2": {"field": "y2"}}},
      {"data": {"name": "curves"}, "transform": [{"filter": "datum.c==9"}], "mark": {"type": "line"}, "encoding": {"detail": {"field": "s"}}},
      {"data": {"name": "plain"}, "transform": [{"filter": "datum.c==9"}], "mark": {"type": "text"}, "encoding": {"text": {"field": "t"}}},
      {"data": {"name": "notes"}, "transform": [{"filter": "datum.c==9"}], "mark": {"type": "text", "align": "right", "fontSize": 8, "fontWeight": "bold", "dy": 60}, "encoding": {"text": {"field": "t"}}}
    ]
  },
  {
    "width": 275, "height": 48, "view": {"stroke": null},
    "encoding": {
      "x": {"field": "x", "type": "quantitative", "scale": {"domain": [156, 431], "nice": false, "zero": false}, "axis": null},
      "y": {"field": "y", "type": "quantitative", "scale": {"domain": [1577, 1625], "nice": false, "zero": false, "reverse": true}, "axis": null}
    },
    "layer": [
      {"data": {"values": [{"x": 95, "x2": 1181, "y": 1549, "y2": 1555}]}, "mark": {"type": "rect", "color": "black"}, "encoding": {"x2": {"field": "x2"}, "y2": {"field": "y2"}}},
      {"data": {"values": [{"x": 1181, "y": 1541, "t": "Rev C"}]}, "mark": {"type": "text", "align": "right", "baseline": "alphabetic", "fontSize": 13}, "encoding": {"text": {"field": "t"}}},
      {"data": {"values": [{"x": 95, "y": 1612, "t": "4"}]}, "mark": {"type": "text", "baseline": "alphabetic", "fontSize": 62, "fontWeight": 300}, "encoding": {"text": {"field": "t"}}},
      {"data": {"values": [{"x": 640, "y": 1618, "t": "www.datasheetall.com"}]}, "mark": {"type": "text", "align": "center", "baseline": "alphabetic", "fontSize": 23.5, "color": "#1a1aff"}, "encoding": {"text": {"field": "t"}}}
    ]
  },
  {"width": 275, "height": 48, "view": {"stroke": null}, "data": {"values": []}, "mark": "point", "encoding": {}},
  {"width": 275, "height": 48, "view": {"stroke": null}, "data": {"values": []}, "mark": "point", "encoding": {}}
]
}
